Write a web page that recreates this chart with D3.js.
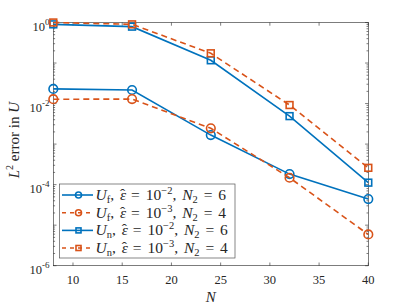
<!DOCTYPE html>
<html><head><meta charset="utf-8">
<script src="https://cdn.jsdelivr.net/npm/d3@7"></script>
<style>body{margin:0;background:#fff}svg{display:block}text{font-family:"Liberation Serif","Times New Roman",serif;fill:#262626}</style>
</head><body>
<svg id="c" width="407" height="306"></svg>
<script>
const N = [8, 16, 24, 32, 40];
const ufE2 = [0.023, 0.0216, 1.67e-3, 1.82e-4, 4.4e-5];
const ufE3 = [0.0128, 0.0129, 2.45e-3, 1.48e-4, 5.9e-6];
const unE2 = [0.90, 0.79, 0.117, 4.9e-3, 1.12e-4];
const unE3 = [1.0, 0.90, 0.174, 9.2e-3, 2.6e-4];
const xTicks = [10, 15, 20, 25, 30, 35, 40];
const yTickExp = [0, -2, -4, -6];
const seriesNames = [
  {sub:"f", eps:"−2", n2:"6"},
  {sub:"f", eps:"−3", n2:"4"},
  {sub:"n", eps:"−2", n2:"6"},
  {sub:"n", eps:"−3", n2:"4"}
];
const blue = "#0072BD", orange = "#D95319";
const series = [
  {vals: ufE2, color: blue, dash: null, marker: "circle"},
  {vals: ufE3, color: orange, dash: "6,4", marker: "circle"},
  {vals: unE2, color: blue, dash: null, marker: "square"},
  {vals: unE3, color: orange, dash: "6,4", marker: "square"}
];

const svg = d3.select("#c");
const L = 53.3, R = 368.3, T = 22.5, B = 265.7;
const x = d3.scaleLinear().domain([8, 40]).range([L, R]);
const y = d3.scaleLog().domain([1e-6, 1]).range([B, T]);
const axc = "#262626";

svg.append("rect").attr("x", L).attr("y", T).attr("width", R - L).attr("height", B - T)
  .attr("fill", "none").attr("stroke", axc).attr("stroke-width", 0.6);

const g = svg.append("g").attr("stroke", axc).attr("stroke-width", 0.6);
xTicks.forEach(t => {
  g.append("line").attr("x1", x(t)).attr("x2", x(t)).attr("y1", B).attr("y2", B - 3.2);
  g.append("line").attr("x1", x(t)).attr("x2", x(t)).attr("y1", T).attr("y2", T + 3.2);
  svg.append("text").attr("x", x(t)).attr("y", B + 18.5).attr("text-anchor", "middle")
    .attr("font-size", 12.5).text(t);
});
for (let e = -6; e <= 0; e++) {
  const v = Math.pow(10, e);
  g.append("line").attr("x1", L).attr("x2", L + 3.2).attr("y1", y(v)).attr("y2", y(v));
  g.append("line").attr("x1", R).attr("x2", R - 3.2).attr("y1", y(v)).attr("y2", y(v));
  if (e < 0) {
    for (let m = 2; m <= 9; m++) {
      const mv = m * v;
      g.append("line").attr("x1", L).attr("x2", L + 1.8).attr("y1", y(mv)).attr("y2", y(mv));
      g.append("line").attr("x1", R).attr("x2", R - 1.8).attr("y1", y(mv)).attr("y2", y(mv));
    }
  }
}
yTickExp.forEach(e => {
  const t = svg.append("text").attr("x", 49.5).attr("y", y(Math.pow(10, e)) + 8)
    .attr("text-anchor", "end").attr("font-size", 12.5);
  t.append("tspan").text("10");
  t.append("tspan").attr("font-size", 9).attr("dy", -6).text(e === 0 ? "0" : "-" + (-e));
});

svg.append("text").attr("x", (L + R) / 2).attr("y", 302).attr("text-anchor", "middle")
  .attr("font-size", 15).attr("font-style", "italic").text("N");
const yl = svg.append("text").attr("transform", `translate(19,${(T + B) / 2 - 4}) rotate(-90)`)
  .attr("text-anchor", "middle").attr("font-size", 15);
yl.append("tspan").attr("font-style", "italic").text("L");
yl.append("tspan").attr("font-size", 10).attr("dy", -6).text("2");
yl.append("tspan").attr("dy", 6).text(" error in ");
yl.append("tspan").attr("font-style", "italic").text("U");

function drawMarker(sel, cx, cy, kind, color, small) {
  if (kind === "circle") {
    sel.append("circle").attr("cx", cx).attr("cy", cy).attr("r", small ? 3 : 4.3)
      .attr("fill", "none").attr("stroke", color).attr("stroke-width", 1.6);
  } else {
    const s = small ? 5 : 6.8;
    sel.append("rect").attr("x", cx - s / 2).attr("y", cy - s / 2).attr("width", s).attr("height", s)
      .attr("fill", "none").attr("stroke", color).attr("stroke-width", 1.6);
  }
}
series.forEach(s => {
  const line = d3.line().x((d, i) => x(N[i])).y(d => y(d));
  svg.append("path").datum(s.vals).attr("d", line).attr("fill", "none")
    .attr("stroke", s.color).attr("stroke-width", 1.6)
    .attr("stroke-dasharray", s.dash);
  s.vals.forEach((v, i) => drawMarker(svg, x(N[i]), y(v), s.marker, s.color, false));
});

const lg = svg.append("g");
lg.append("rect").attr("x", 59.5).attr("y", 184).attr("width", 175.5).attr("height", 74)
  .attr("fill", "#fff").attr("stroke", "#555").attr("stroke-width", 0.7);
const rowsY = [195, 212.7, 230.4, 248];
series.forEach((s, i) => {
  const ry = rowsY[i];
  lg.append("line").attr("x1", 62).attr("x2", 93).attr("y1", ry).attr("y2", ry)
    .attr("stroke", s.color).attr("stroke-width", 1.6).attr("stroke-dasharray", s.dash ? "4,4" : null);
  drawMarker(lg, 78.5, ry, s.marker, s.color, true);
  const nm = seriesNames[i];
  const t = lg.append("text").attr("x", 95.5).attr("y", ry + 5).attr("font-size", 15.5)
    .attr("word-spacing", 2);
  t.append("tspan").attr("font-style", "italic").text("U");
  t.append("tspan").attr("font-size", 10.5).attr("dy", 3).text(nm.sub);
  t.append("tspan").attr("dy", -3).text(", ");
  t.append("tspan").attr("font-style", "italic").text("ε");
  t.append("tspan").attr("dx", -6).attr("dy", -1).text("ˆ");
  t.append("tspan").attr("dy", 1).text(" = 10");
  t.append("tspan").attr("font-size", 10.5).attr("dy", -6).text(nm.eps);
  t.append("tspan").attr("dy", 6).text(", ");
  t.append("tspan").attr("font-style", "italic").text("N");
  t.append("tspan").attr("font-size", 10.5).attr("dy", 3).text("2");
  t.append("tspan").attr("dy", -3).text(" = " + nm.n2);
});
</script>
</body></html>
